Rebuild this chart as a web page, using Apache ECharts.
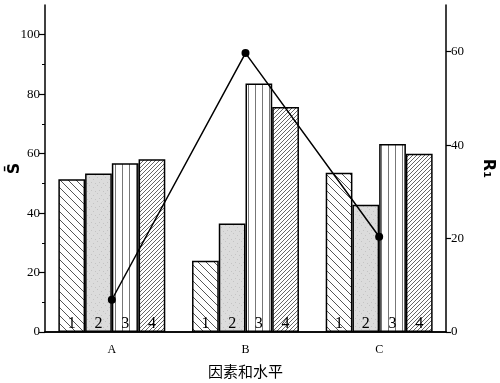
<!DOCTYPE html>
<html><head><meta charset="utf-8">
<script src="https://cdn.jsdelivr.net/npm/echarts@6/dist/echarts.min.js"></script>
<style>html,body{margin:0;padding:0;background:#fff}#c{width:500px;height:383px}</style>
</head><body><div id="c"></div>
<script>
const categories = ['A', 'B', 'C'];
const levelNames = ['1', '2', '3', '4'];
const level1 = [51.4, 24.0, 53.6];
const level2 = [53.3, 36.5, 42.8];
const level3 = [56.8, 83.6, 63.2];
const level4 = [58.1, 75.7, 60.0];
const rangeR1 = [6.9, 59.7, 20.4];
const leftTicks = [0, 20, 40, 60, 80, 100];
const leftMinorTicks = [10, 30, 50, 70, 90];
const rightTicks = [0, 20, 40, 60];

function makePattern(kind) {
  const c = document.createElement('canvas');
  if (kind === 'gray') {
    c.width = 8; c.height = 8;
    const g = c.getContext('2d');
    g.fillStyle = '#dcdcdc'; g.fillRect(0, 0, 8, 8);
    g.fillStyle = '#c4c4c4';
    g.fillRect(1, 1, 1, 1); g.fillRect(5, 3, 1, 1); g.fillRect(3, 6, 1, 1); g.fillRect(7, 7, 1, 1);
  } else if (kind === 'back') {
    c.width = 8; c.height = 8;
    const g = c.getContext('2d');
    g.fillStyle = '#fff'; g.fillRect(0, 0, 8, 8);
    g.strokeStyle = '#555'; g.lineWidth = 1;
    g.beginPath();
    g.moveTo(0, 0); g.lineTo(8, 8);
    g.moveTo(-1, 7); g.lineTo(1, 9);
    g.moveTo(7, -1); g.lineTo(9, 1);
    g.stroke();
  } else if (kind === 'vert') {
    c.width = 7; c.height = 8;
    const g = c.getContext('2d');
    g.fillStyle = '#fff'; g.fillRect(0, 0, 7, 8);
    g.strokeStyle = '#777'; g.lineWidth = 1;
    g.beginPath(); g.moveTo(3.5, 0); g.lineTo(3.5, 8); g.stroke();
  } else {
    c.width = 4; c.height = 4;
    const g = c.getContext('2d');
    g.fillStyle = '#fff'; g.fillRect(0, 0, 4, 4);
    g.strokeStyle = '#555'; g.lineWidth = 0.9;
    g.beginPath();
    g.moveTo(0, 4); g.lineTo(4, 0);
    g.moveTo(-1, 1); g.lineTo(1, -1);
    g.moveTo(3, 5); g.lineTo(5, 3);
    g.stroke();
  }
  return c;
}

const patterns = [makePattern('back'), makePattern('gray'), makePattern('vert'), makePattern('fwd')];
const levels = [level1, level2, level3, level4];
const serif = '"Liberation Serif", "DejaVu Serif", serif';

const barSeries = levels.map((d, i) => ({
  type: 'bar', name: levelNames[i], data: d, xAxisIndex: 0, yAxisIndex: 0,
  barGap: '0%', barCategoryGap: '20%',
  itemStyle: { color: { image: patterns[i], repeat: 'repeat' }, borderColor: '#000', borderWidth: 1.5 },
  label: { show: true, position: 'insideBottom', distance: 0, formatter: levelNames[i],
    fontFamily: serif, fontSize: 16, color: '#000' },
  emphasis: { disabled: true }, z: 2
}));

const chart = echarts.init(document.getElementById('c'), null, { renderer: 'canvas' });
chart.setOption({
  animation: false,
  backgroundColor: '#fff',
  grid: { left: 45, right: 54, top: 5, bottom: 51, outerBoundsMode: 'none', containLabel: false },
  xAxis: [
    { type: 'category', data: categories, position: 'bottom',
      axisLine: { lineStyle: { color: '#000', width: 1.5 } },
      axisTick: { alignWithLabel: true, length: 6, lineStyle: { color: '#000', width: 1.2 } },
      axisLabel: { fontFamily: serif, fontSize: 12, color: '#000', margin: 12 },
      name: '因素和水平', nameLocation: 'middle', nameGap: 32, nameMoveOverlap: false,
      nameTextStyle: { fontFamily: '"Noto Sans CJK SC"', fontSize: 15, color: '#000' } },
    { type: 'category', data: categories, position: 'top',
      axisLine: { lineStyle: { color: '#000', width: 1.5 } },
      axisTick: { show: false }, axisLabel: { show: false } },
    { type: 'category', data: categories, position: 'bottom',
      axisLine: { show: false },
      axisTick: { length: 3, lineStyle: { color: '#000', width: 1 } }, axisLabel: { show: false } }
  ],
  yAxis: [
    { type: 'value', min: 0, max: 110, interval: 20, position: 'left',
      axisLine: { show: true, lineStyle: { color: '#000', width: 1.5 } },
      axisTick: { show: true, length: 6, customValues: leftTicks, lineStyle: { color: '#000', width: 1.2 } },
      axisLabel: { customValues: leftTicks, fontFamily: serif, fontSize: 13, color: '#000', margin: 5 },
      splitLine: { show: false },
      name: 'S\u0304', nameLocation: 'middle', nameGap: 22, nameRotate: 90, nameMoveOverlap: false,
      nameTextStyle: { fontFamily: '"DejaVu Sans"', fontWeight: 'bold', fontSize: 16, color: '#000' } },
    { type: 'value', min: 0, max: 70, interval: 20, position: 'right',
      axisLine: { show: true, lineStyle: { color: '#000', width: 1.5 } },
      axisTick: { show: true, length: 5, customValues: rightTicks, lineStyle: { color: '#000', width: 1.2 } },
      axisLabel: { customValues: rightTicks, fontFamily: serif, fontSize: 13, color: '#000', margin: 5 },
      splitLine: { show: false },
      name: 'R\u2081', nameLocation: 'middle', nameGap: 34, nameRotate: -90, nameMoveOverlap: false,
      nameTextStyle: { fontFamily: '"DejaVu Sans"', fontWeight: 'bold', fontSize: 16, color: '#000' } },
    { type: 'value', min: 0, max: 110, interval: 10, position: 'left',
      axisLine: { show: false },
      axisTick: { show: true, length: 3, customValues: leftMinorTicks, lineStyle: { color: '#000', width: 1 } },
      axisLabel: { show: false }, splitLine: { show: false } }
  ],
  series: barSeries.concat([{
    type: 'line', name: 'R1', data: rangeR1, xAxisIndex: 0, yAxisIndex: 1,
    symbol: 'circle', symbolSize: 8,
    itemStyle: { color: '#000' }, lineStyle: { color: '#000', width: 1.5 },
    emphasis: { disabled: true }, z: 5
  }])
});
</script></body></html>
